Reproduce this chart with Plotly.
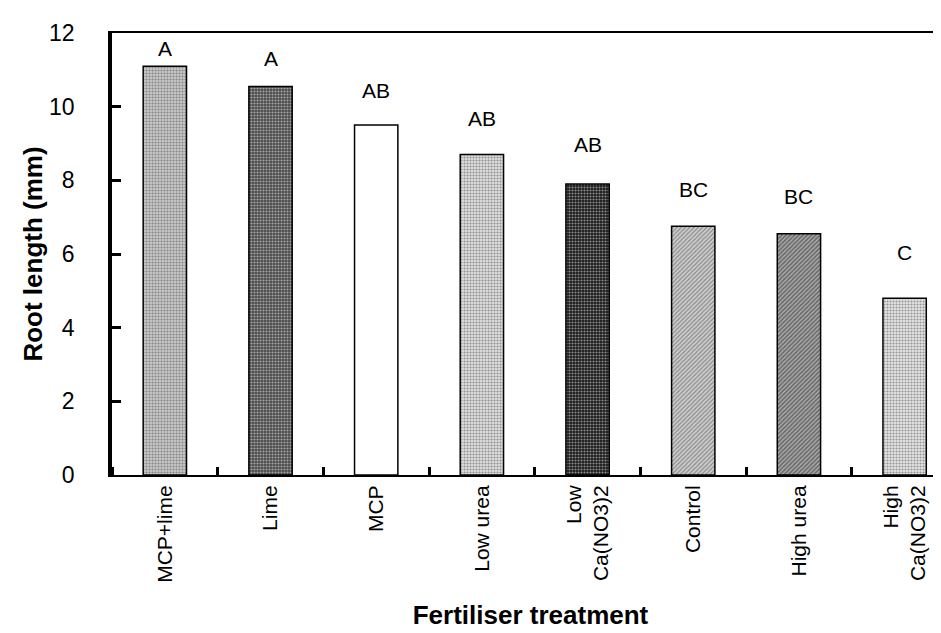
import plotly.graph_objects as go

categories = ["MCP+lime", "Lime", "MCP", "Low urea", "Low<br>Ca(NO3)2",
              "Control", "High urea", "High<br>Ca(NO3)2"]
root_length = [11.1, 10.55, 9.5, 8.7, 7.9, 6.75, 6.55, 4.8]
group_letters = ["A", "A", "AB", "AB", "AB", "BC", "BC", "C"]
letter_heights = [11.59, 11.32, 10.45, 9.69, 8.96, 7.74, 7.55, 6.05]

bg_colors = ["#c8c8c8", "#4a4a4a", "#ffffff", "#dedede", "#1a1a1a", "#cfcfcf", "#6a6a6a", "#e4e4e4"]
fg_colors = ["#777777", "#1a1a1a", "#ffffff", "#999999", "#555555", "#888888", "#2a2a2a", "#aaaaaa"]
shapes_pat = [".", ".", "", ".", ".", "/", "/", "."]

x_idx = list(range(len(categories)))

fig = go.Figure()
fig.add_trace(go.Bar(
    x=x_idx, y=root_length, width=0.41,
    marker=dict(
        color=bg_colors,
        line=dict(color="black", width=1.5),
        pattern=dict(shape=shapes_pat, fgcolor=fg_colors, bgcolor=bg_colors,
                     size=3, solidity=0.4, fillmode="overlay"),
    ),
    showlegend=False,
))

for i, (lt, h) in enumerate(zip(group_letters, letter_heights)):
    fig.add_annotation(x=i, y=h, text=lt, showarrow=False, xref="x", yref="y",
                       yanchor="middle", font=dict(family="Liberation Sans", size=21, color="black"))

fig.update_layout(
    width=941, height=633,
    margin=dict(l=104, r=0, t=25, b=166),
    plot_bgcolor="white", paper_bgcolor="white",
    font=dict(family="Liberation Sans", color="black"),
)
fig.update_xaxes(
    range=[-0.5, 7.42], tickmode="array", tickvals=x_idx, ticktext=categories,
    tickangle=-90, tickfont=dict(size=21), showline=True, linecolor="black", linewidth=2,
    mirror=True, ticks="", showgrid=False, zeroline=False,
    minor=dict(tick0=0.5, dtick=1, ticks="inside", ticklen=8, tickwidth=3, tickcolor="black", showgrid=False),
    title=dict(text="<b>Fertiliser treatment</b>", font=dict(size=26), standoff=24),
)
fig.update_yaxes(
    range=[0, 12], tickvals=[0, 2, 4, 6, 8, 10, 12], tickfont=dict(size=23),
    showline=True, linecolor="black", linewidth=3.5, ticks="inside", ticklen=9, tickwidth=3,
    tickcolor="black", showgrid=False, zeroline=False, ticklabelstandoff=29,
    title=dict(text="<b>Root length (mm)</b>", font=dict(size=26), standoff=0),
)

fig.write_html("out.html")
